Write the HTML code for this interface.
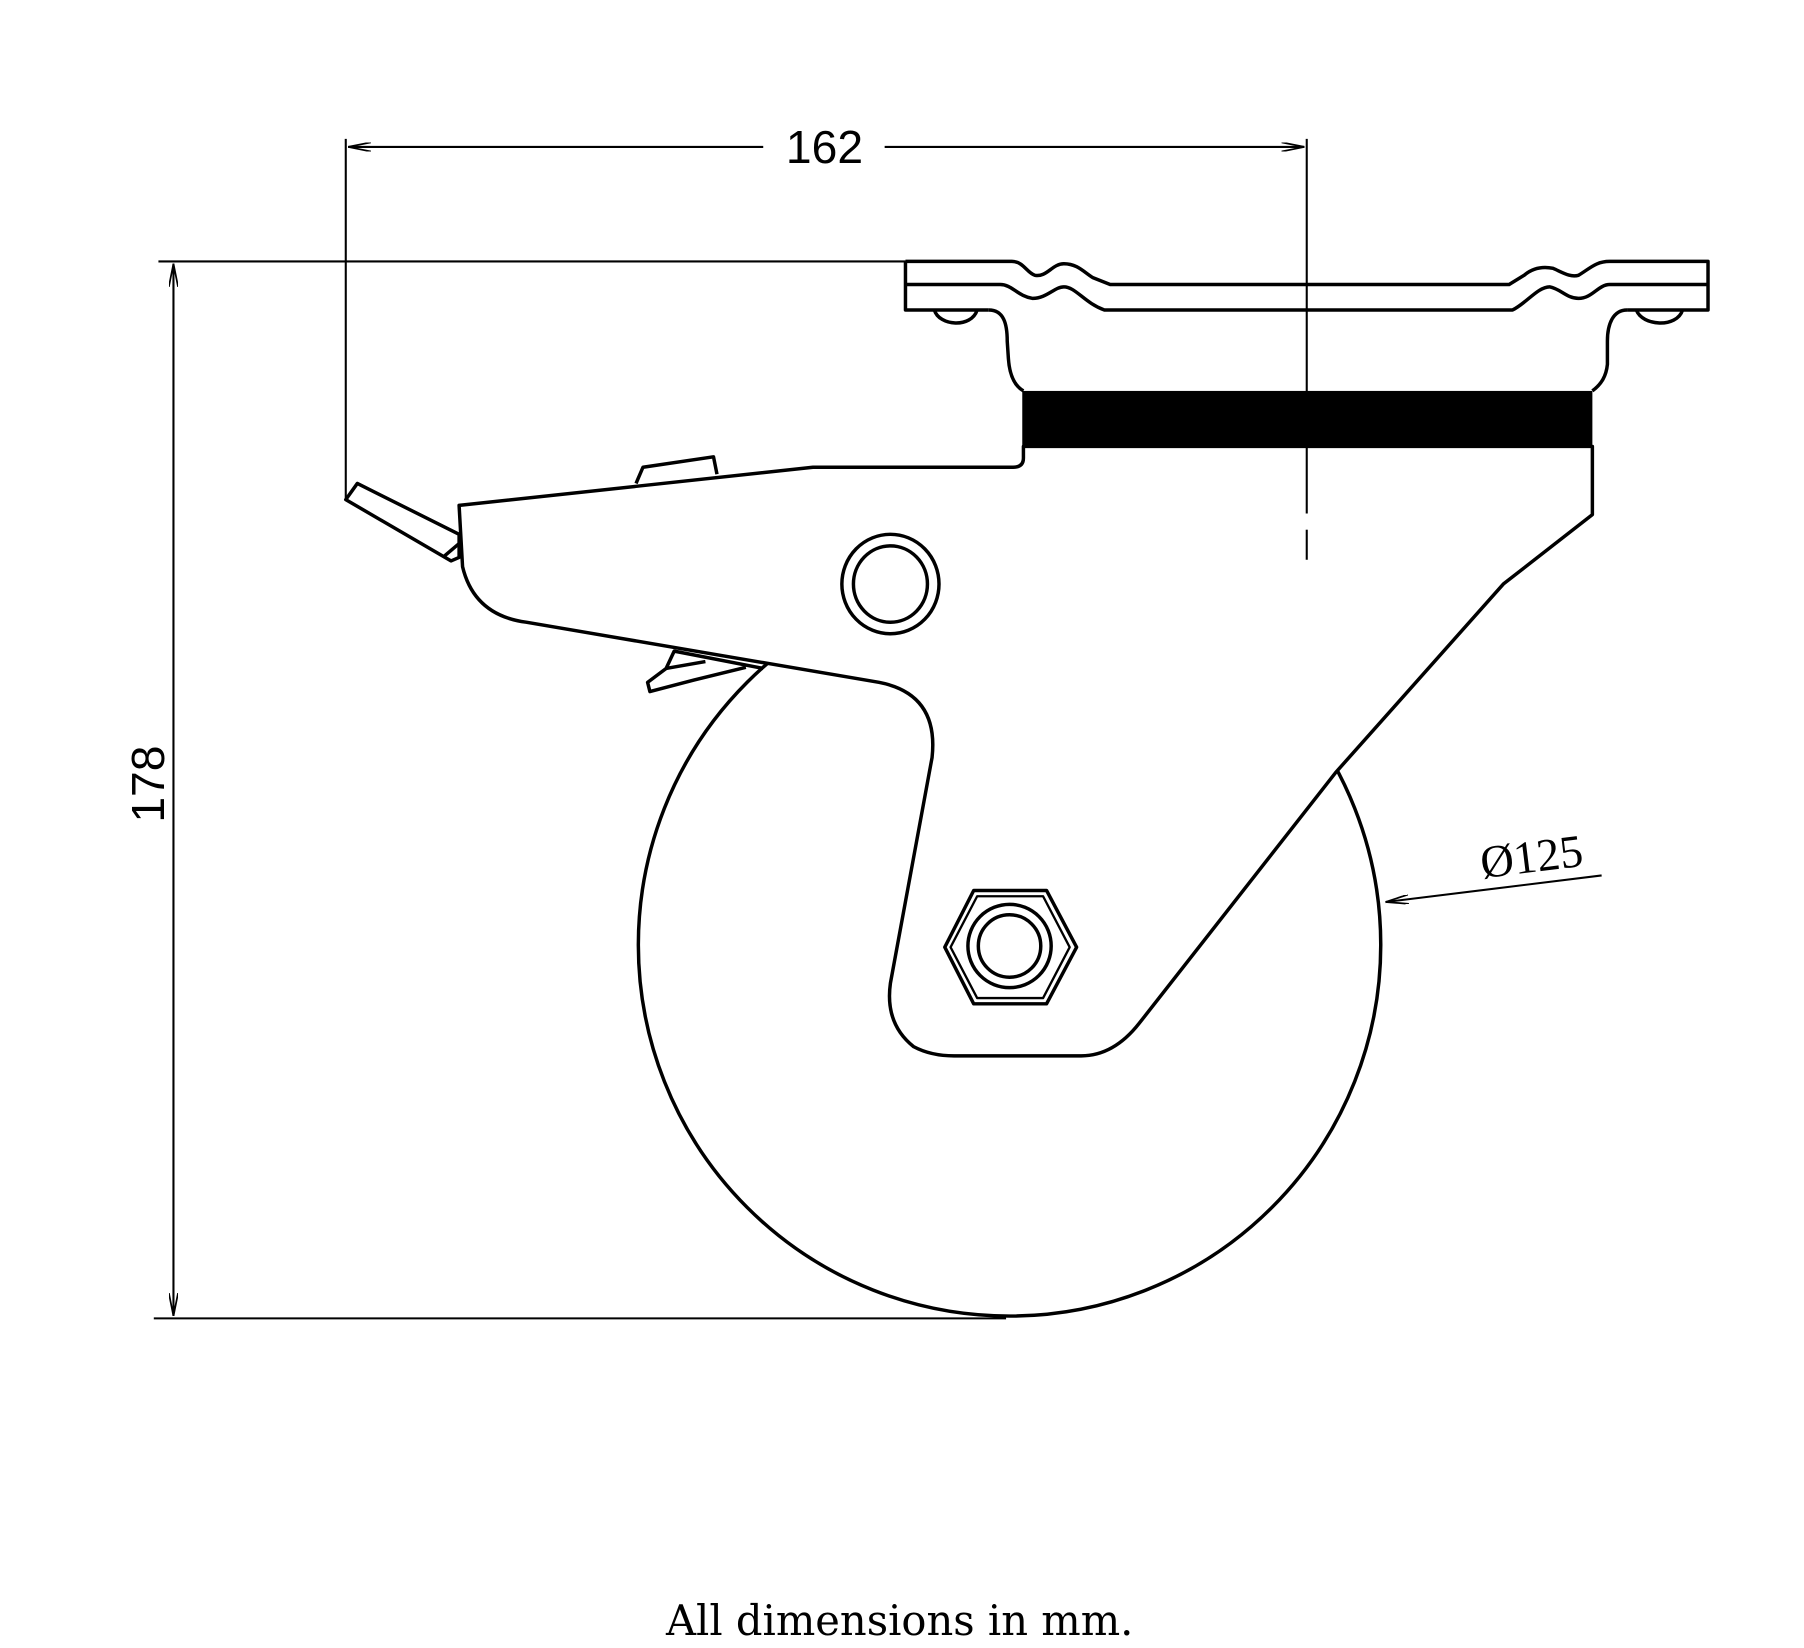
<!DOCTYPE html>
<html><head><meta charset="utf-8"><style>html,body{margin:0;padding:0;background:#fff}svg{display:block}</style></head>
<body>
<svg width="1804" height="1648" viewBox="0 0 1560 1425" xmlns="http://www.w3.org/2000/svg">
<defs>
<marker id="a" viewBox="0 0 20 8" refX="20" refY="4" markerWidth="20" markerHeight="8" markerUnits="userSpaceOnUse" orient="auto-start-reverse"><path d="M0,0 L20,4 L0,8" fill="none" stroke="#000" stroke-width="1.5"/></marker>
</defs>
<g fill="none" stroke="#000" stroke-width="3" stroke-linejoin="round">
<!-- wheel -->
<circle cx="873" cy="817" r="321"/>
<!-- plate -->
<path d="M783,226 L875,226 C885,226 888,236 895,238 C905,240 910,228 920,228 C932,228 938,236 945,240 L960,246 L1305,246 L1318,238 C1325,232 1333,230 1343,232 C1352,236 1358,240 1365,238 C1375,232 1380,226 1392,226 L1477,226 L1477,268 L1407,268"/>
<path d="M783,226 L783,268 L855,268"/>
<path d="M783,246 L865,246 C875,246 880,256 893,258 C905,258 912,248 920,248 C930,248 938,262 955,268 L1308,268 C1320,262 1330,248 1340,248 C1350,250 1355,258 1365,258 C1377,258 1382,246 1392,246 L1477,246"/>
<path d="M808,268 C812,282 840,284 845,268"/>
<path d="M1415,268 C1420,282 1450,284 1455,268"/>
<path d="M855,268 C868,268 871,280 871,295 L872,310 C873,325 878,334 885,338"/>
<path d="M1407,268 C1395,268 1390,280 1390,295 L1390,315 C1389,325 1385,332 1377,338"/>
<!-- fork -->
<path fill="#fff" d="M885,386 L885,396 Q885,404 876,404 L703,404 L397,437 L400,490 Q410,532 455,538 L760,590 Q812,600 806,655 L770,850 Q765,885 790,905 Q805,913 825,913 L935,913 Q963,913 985,885 L1155,668 L1300,505 L1377,445 L1377,386 Z"/>
<path fill="#fff" d="M550,418 L556,404 L617,395 L620,410"/>
<path fill="#fff" d="M299,432 L309,418 L397,462 L397,482 L390,485 Z"/>
<line x1="384" y1="481" x2="397" y2="470"/>
<path fill="#fff" d="M660,578 L583,563 L576,578 L560,590 L562,598 L600,588 L645,577"/>
<line x1="576" y1="578" x2="610" y2="572"/>
<ellipse cx="770" cy="505" rx="42" ry="43"/>
<ellipse cx="770" cy="505" rx="32" ry="33"/>
<path d="M842,770 L905,770 L931,819 L905,868 L842,868 L817,819 Z"/>
<path d="M845,775 L902,775 L925,819 L902,863 L845,863 L822,819 Z" stroke-width="2"/>
<circle cx="873" cy="818" r="36"/>
<circle cx="873" cy="818" r="27"/>
</g>
<rect x="884" y="338" width="493" height="49" fill="#000"/>
<g fill="none" stroke="#000" stroke-width="1.8">
<line x1="299" y1="120" x2="299" y2="432"/>
<line x1="1130" y1="120" x2="1130" y2="444"/>
<line x1="1130" y1="458" x2="1130" y2="484"/>
<line x1="301" y1="127" x2="660" y2="127" marker-start="url(#a)"/>
<line x1="765" y1="127" x2="1128" y2="127" marker-end="url(#a)"/>
<line x1="137" y1="226" x2="783" y2="226"/>
<line x1="133" y1="1140" x2="870" y2="1140"/>
<line x1="150" y1="228" x2="150" y2="1138" marker-start="url(#a)" marker-end="url(#a)"/>
<line x1="1385" y1="757" x2="1198" y2="780" marker-end="url(#a)"/>
</g>
<g font-family="'Liberation Sans', sans-serif" font-size="40" fill="#000">
<text x="713" y="141" text-anchor="middle">162</text>
<text transform="translate(142,678) rotate(-90)" text-anchor="middle">178</text>
</g>
<text transform="translate(1326,754) rotate(-7)" text-anchor="middle" font-family="'Liberation Serif', serif" font-size="40">Ø125</text>
<text x="778" y="1414" text-anchor="middle" font-family="'DejaVu Serif', 'Liberation Serif', serif" font-size="36">All dimensions in mm.</text>
</svg>
</body></html>
